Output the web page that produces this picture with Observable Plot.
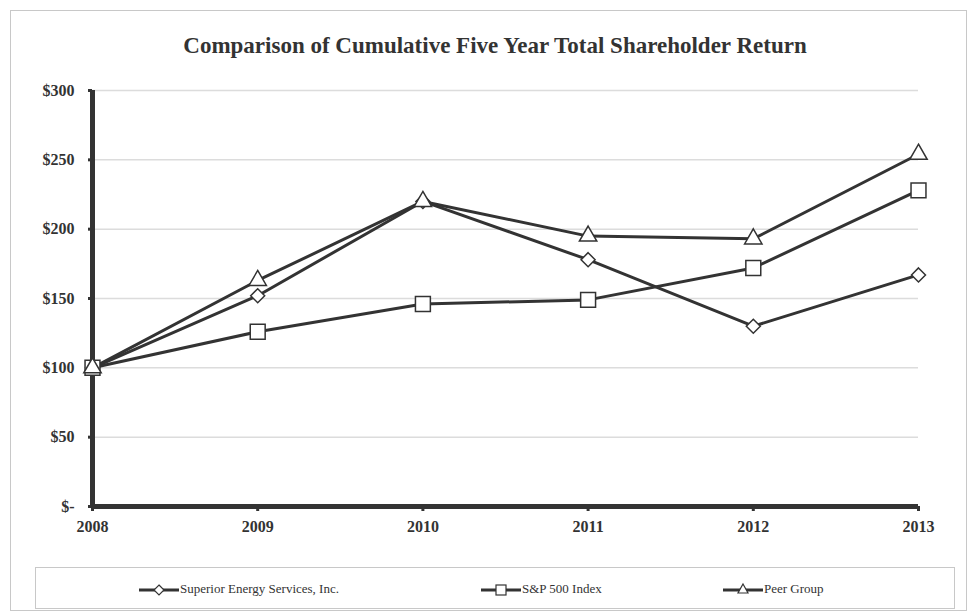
<!DOCTYPE html>
<html><head><meta charset="utf-8">
<script src="https://cdn.jsdelivr.net/npm/d3@7"></script>
<script src="https://cdn.jsdelivr.net/npm/@observablehq/plot@0.6"></script>
<style>
body{margin:0;background:#fff;}
#wrap{position:relative;width:970px;height:614px;font-family:"Liberation Serif","Times New Roman",serif;}
#frame{position:absolute;left:10px;top:10px;width:957px;height:601px;border:1px solid #c8c8c8;box-sizing:border-box;}
#title{position:absolute;left:0;top:33px;width:990px;text-align:center;font-weight:bold;font-size:23px;color:#333;}
#chart{position:absolute;left:0;top:70px;}
#legend{position:absolute;left:35px;top:567px;width:920px;height:42px;border:1px solid #c8c8c8;box-sizing:border-box;font-size:13px;color:#333;}
.item{position:absolute;top:12px;display:flex;align-items:center;}
.item svg{margin-right:1px;}
</style></head>
<body><div id="wrap"><div id="frame"></div><div id="title">Comparison of Cumulative Five Year Total Shareholder Return</div><div id="chart"></div><div id="legend"></div></div>
<script>
const years = [2008, 2009, 2010, 2011, 2012, 2013];
const superior = [100, 152, 220, 178, 130, 167];
const sp500 = [100, 126, 146, 149, 172, 228];
const peer = [100, 163, 220, 195, 193, 254];
const seriesNames = ["Superior Energy Services, Inc.", "S&P 500  Index", "Peer Group"];
const yTicks = [0, 50, 100, 150, 200, 250, 300];

const data = [];
[superior, sp500, peer].forEach((vals, i) => vals.forEach((v, j) => data.push({series: seriesNames[i], year: years[j], value: v})));

const symbols = {"Superior Energy Services, Inc.": ["diamond2", 6.3], "S&P 500  Index": ["square2", 9.5], "Peer Group": ["triangle2", 8.3]};
const ink = "#333";

const chart = Plot.plot({
  width: 970, height: 490,
  marginLeft: 92, marginRight: 52, marginTop: 20, marginBottom: 54,
  style: {fontFamily: '"Liberation Serif","Times New Roman",serif', fontSize: "16px", fontWeight: "bold", color: ink, background: "transparent"},
  x: {type: "linear", domain: [2008, 2013], label: null},
  y: {domain: [0, 300], label: null},
  marks: [
    Plot.gridY(yTicks.filter(d => d > 0), {stroke: "#dcdcdc", strokeOpacity: 1, strokeWidth: 1.5}),
    Plot.axisX({ticks: years, tickFormat: d => String(d), tickSize: 5, tickPadding: 9, stroke: ink, strokeWidth: 3, fontWeight: "bold", fontSize: 16}),
    Plot.axisY({ticks: yTicks, tickFormat: d => d === 0 ? "$-" : "$" + d, tickSize: 4, tickPadding: 14, stroke: ink, strokeWidth: 3, fontWeight: "bold", fontSize: 16}),
    Plot.ruleY([0], {stroke: ink, strokeWidth: 5}),
    Plot.ruleX([2008], {stroke: ink, strokeWidth: 5}),
    Plot.line(data, {x: "year", y: "value", z: "series", stroke: ink, strokeWidth: 3}),
    ...seriesNames.map(s => Plot.dot(data.filter(d => d.series === s), {x: "year", y: "value", symbol: symbols[s][0], r: symbols[s][1], fill: "white", stroke: ink, strokeWidth: 1.5}))
  ]
});
document.getElementById("chart").appendChild(chart);

// legend
const legend = document.getElementById("legend");
const legendPos = [103, 445, 687];
const glyphs = {
  "diamond2": '<path d="M20,5 L25,10 L20,15 L15,10 Z" fill="white" stroke="#333" stroke-width="1.2"/>',
  "square2": '<rect x="15" y="5" width="10" height="10" fill="white" stroke="#333" stroke-width="1.2"/>',
  "triangle2": '<path d="M20,4 L25,13 L15,13 Z" fill="white" stroke="#333" stroke-width="1.2"/>'
};
seriesNames.forEach((s, i) => {
  const div = document.createElement("div");
  div.className = "item";
  div.style.left = legendPos[i] + "px";
  div.innerHTML = `<svg width="40" height="18"><line x1="0" x2="40" y1="10" y2="10" stroke="#333" stroke-width="3"/>${glyphs[symbols[s][0]]}</svg><span>${s}</span>`;
  legend.appendChild(div);
});
</script>
</body></html>
